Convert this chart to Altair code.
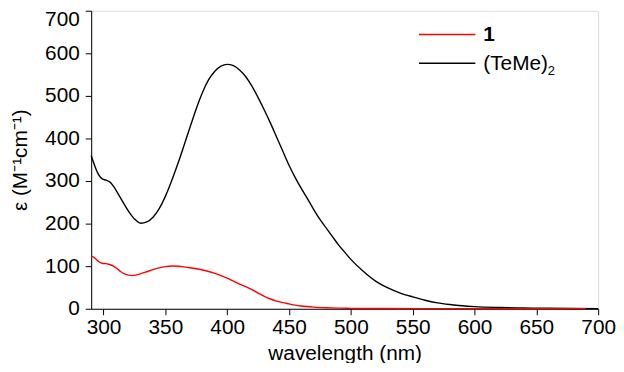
import altair as alt
import pandas as pd

# Series (TeMe)2 (black)
teme_wl = [290, 293, 296, 299, 302, 305, 308, 311, 315, 320, 325, 330, 335, 340, 345, 350, 355, 360,
           365, 370, 375, 380, 385, 390, 395, 400, 405, 410, 415, 420, 425, 430, 435, 440, 445, 450,
           455, 460, 465, 470, 475, 480, 485, 490, 495, 500, 510, 520, 530, 540, 550, 560, 570, 580,
           590, 600, 620, 640, 660, 680, 700]
teme_eps = [360, 335, 315, 305, 302, 298, 288, 274, 254, 230, 211, 201, 204, 215, 235, 264, 300, 340,
            383, 427, 470, 508, 538, 558, 570, 574, 571, 561, 545, 523, 496, 467, 436, 403, 370, 337,
            308, 282, 258, 233, 210, 190, 170, 150, 133, 116, 88, 65, 49, 37, 28, 20, 14, 10,
            7, 5, 3, 2, 1.2, 0.7, 0.4]

# Series 1 (red)
c1_wl = [290, 293, 296, 299, 302, 305, 308, 311, 314, 317, 320, 323, 326, 330, 335, 340, 345, 350,
         355, 360, 365, 370, 375, 380, 385, 390, 395, 400, 405, 410, 415, 420, 425, 430, 435, 440,
         445, 450, 455, 460, 470, 480, 490, 500, 520, 560, 600, 690]
c1_eps = [124, 119, 111, 107, 106, 104, 100, 94, 87, 82, 79, 78, 79, 82, 87, 92, 96, 99,
          100.5, 100, 98.5, 96.5, 94, 91, 87.5, 83, 78, 72, 65, 58, 52, 45, 37, 29, 23, 18,
          14.5, 11.5, 8.5, 6.5, 4, 2.5, 1.5, 1, 0.6, 0.4, 0.3, 0.3]

x_ticks = [300, 350, 400, 450, 500, 550, 600, 650, 700]
y_ticks = [0, 100, 200, 300, 400, 500, 600, 700]

df_teme = pd.DataFrame({"wl": teme_wl, "eps": teme_eps})
df_c1 = pd.DataFrame({"wl": c1_wl, "eps": c1_eps})

FONT = "Liberation Sans"
FS = 21

xscale = alt.Scale(domain=[290, 700], nice=False, zero=False)
yscale = alt.Scale(domain=[0, 700], nice=False)

xaxis = alt.Axis(title="wavelength (nm)", values=x_ticks, grid=False, tickSize=6, labelFlush=False,
                 labelFontSize=FS, titleFontSize=FS, titleFontWeight="normal",
                 labelFont=FONT, titleFont=FONT, labelColor="black", titleColor="black",
                 domainColor="black", tickColor="black", labelPadding=2, titlePadding=5)
yaxis = alt.Axis(title="ε (M⁻¹cm⁻¹)", values=y_ticks, grid=False, tickSize=6,
                 labelFontSize=FS, titleFontSize=FS, titleFontWeight="normal",
                 labelFont=FONT, titleFont=FONT, labelColor="black", titleColor="black",
                 domainColor="black", tickColor="black", labelPadding=6, titlePadding=14,
                 labelOffset={"condition": {"test": "datum.value == 700", "value": 9}, "value": 0})

black = alt.Chart(df_teme).mark_line(color="black", strokeWidth=1.4, interpolate="monotone").encode(
    x=alt.X("wl:Q", scale=xscale, axis=xaxis),
    y=alt.Y("eps:Q", scale=yscale, axis=yaxis),
)
red = alt.Chart(df_c1).mark_line(color="#ff0000", strokeWidth=1.4, interpolate="monotone").encode(
    x=alt.X("wl:Q", scale=xscale),
    y=alt.Y("eps:Q", scale=yscale),
)

# Manual legend
leg_names = ["1", "(TeMe)"]
leg_colors = ["#ff0000", "black"]
leg_df = pd.DataFrame({"name": leg_names, "color": leg_colors})
sub_df = pd.DataFrame({"t": ["2"]})

def leg_line(i, ypx):
    return alt.Chart(leg_df.iloc[[i]]).mark_rule(strokeWidth=1.4, color=leg_colors[i]).encode(
        x=alt.value(331), x2=alt.value(388), y=alt.value(ypx))

def leg_text(i, ypx, weight):
    return alt.Chart(leg_df.iloc[[i]]).mark_text(
        align="left", baseline="middle", fontSize=FS, font=FONT, fontWeight=weight,
        color="black", dy=1).encode(x=alt.value(396), y=alt.value(ypx), text="name:N")

legend_sub = alt.Chart(sub_df).mark_text(
    align="left", baseline="middle", fontSize=13, font=FONT, color="black"
).encode(x=alt.value(461), y=alt.value(61), text="t:N")

chart = alt.layer(
    black, red,
    leg_line(0, 24), leg_line(1, 53),
    leg_text(0, 24, "bold"), leg_text(1, 53, "normal"),
    legend_sub,
).properties(
    width=512, height=301,
    autosize=alt.AutoSizeParams(type="none"),
    padding={"left": 84, "top": 1, "right": 18, "bottom": 53},
).configure_view(stroke=None).configure(background="white")

chart.save("out.html", embed_options={"renderer": "svg", "actions": False})
